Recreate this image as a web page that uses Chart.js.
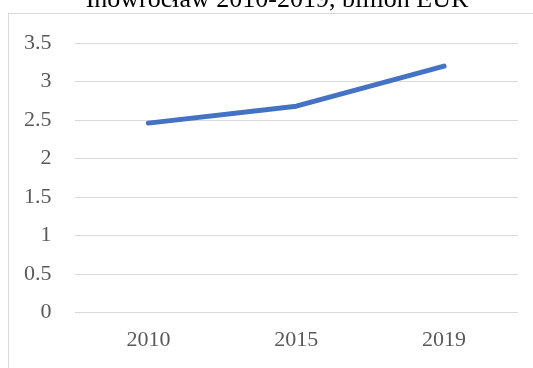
<!DOCTYPE html>
<html>
<head>
<meta charset="utf-8">
<script src="https://cdn.jsdelivr.net/npm/chart.js@4/dist/chart.umd.min.js"></script>
<style>
    html, body { margin: 0; padding: 0; background: #fff; overflow: hidden; }
    #wrap { position: relative; width: 533px; height: 368px; }
    #frame {
        position: absolute; left: 8px; top: 13px;
        width: 600px; height: 400px;
        border: 1px solid #d9d9d9;
    }
    #chart { position: absolute; left: 0; top: 0; }
</style>
</head>
<body>
<div id="wrap">
    <div id="frame"></div>
    <canvas id="chart" width="533" height="368"></canvas>
</div>
<script>
    // GDP of Inowrocław, billion EUR
    var years = ['2010', '2015', '2019'];
    var gdpValues = [2.46, 2.68, 3.20];
    var yTicks = [0, 0.5, 1, 1.5, 2, 2.5, 3, 3.5];
    var titleText = 'Inowrocław 2010-2019, billion EUR';

    var serif = '"Liberation Serif", "Times New Roman", serif';

    // Title sits above the frame, mostly clipped by the top edge
    var titlePlugin = {
        id: 'topTitle',
        afterDraw: function (chart) {
            var ctx = chart.ctx;
            ctx.save();
            ctx.font = '26px ' + serif;
            ctx.fillStyle = '#000';
            ctx.textAlign = 'center';
            ctx.textBaseline = 'alphabetic';
            ctx.fillText(titleText, 277, 7);
            ctx.restore();
        }
    };

    new Chart(document.getElementById('chart'), {
        type: 'line',
        data: {
            labels: years,
            datasets: [{
                label: 'GDP',
                data: gdpValues,
                borderColor: '#4472c4',
                borderWidth: 5,
                borderCapStyle: 'round',
                borderJoinStyle: 'round',
                pointRadius: 0,
                fill: false,
                tension: 0
            }]
        },
        options: {
            responsive: false,
            animation: false,
            layout: {
                padding: { left: 1, right: 15, top: 43, bottom: 1 }
            },
            plugins: {
                legend: { display: false },
                tooltip: { enabled: false }
            },
            scales: {
                x: {
                    offset: true,
                    grid: { display: false, drawTicks: false },
                    border: { display: false },
                    ticks: {
                        padding: 14,
                        color: '#595959',
                        font: { family: serif, size: 22 }
                    }
                },
                y: {
                    min: 0,
                    max: 3.5,
                    afterBuildTicks: function (axis) {
                        axis.ticks = yTicks.map(function (v) { return { value: v }; });
                    },
                    grid: { color: '#d9d9d9', lineWidth: 1, drawTicks: false },
                    border: { display: false },
                    ticks: {
                        padding: 23,
                        color: '#595959',
                        font: { family: serif, size: 22 },
                        callback: function (value) { return String(value); }
                    }
                }
            }
        },
        plugins: [titlePlugin]
    });
</script>
</body>
</html>
